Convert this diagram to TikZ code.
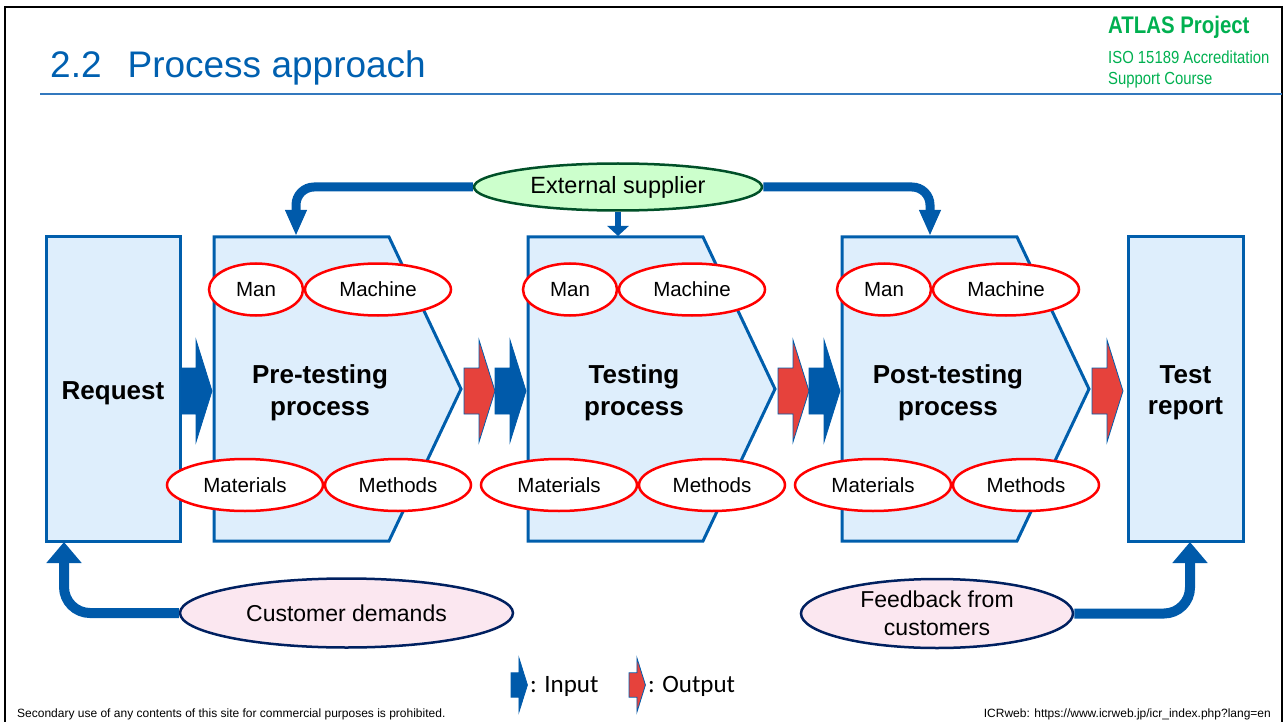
\documentclass[tikz,border=0pt]{standalone}
\usepackage{fontspec}
\setmainfont{Liberation Sans}
\newfontfamily\narrowfont[FakeStretch=0.85]{Liberation Sans}
\newfontfamily\legendfont{Carlito}
\usetikzlibrary{shapes.geometric, arrows.meta}

\definecolor{boxblue}{RGB}{0,94,172}
\definecolor{boxfill}{RGB}{222,238,252}
\definecolor{arrowblue}{RGB}{0,90,170}
\definecolor{outred}{RGB}{230,66,60}
\definecolor{factorred}{RGB}{255,0,0}
\definecolor{supfill}{RGB}{204,255,204}
\definecolor{supline}{RGB}{0,80,40}
\definecolor{custfill}{RGB}{251,231,240}
\definecolor{custline}{RGB}{0,32,96}
\definecolor{atlasgreen}{RGB}{0,176,80}
\definecolor{titleblue}{RGB}{0,96,176}
\definecolor{rulecol}{RGB}{50,120,190}

\tikzset{
  procbox/.style={draw=boxblue, fill=boxfill, line width=3pt},
  endbox/.style={procbox, rectangle, minimum width=134pt, minimum height=304pt, inner sep=0pt},
  proclabel/.style={align=center, inner sep=0pt, font=\fontsize{26}{31.5}\selectfont\bfseries},
  factor/.style={ellipse, draw=factorred, fill=white, line width=2.5pt, inner sep=0pt, minimum height=52pt, font=\fontsize{20.5}{24}\selectfont},
  party/.style={ellipse, draw=custline, fill=custfill, line width=2.5pt, inner sep=0pt, minimum height=69pt, align=center, font=\fontsize{23}{28}\selectfont},
  supply/.style={draw=arrowblue, line width=9pt, rounded corners=18pt, -{Triangle[width=20pt, length=26pt]}},
  demand/.style={draw=arrowblue, line width=10pt, rounded corners=26pt, -{Triangle[width=34pt, length=21pt]}},
  inarrow/.style={fill=arrowblue, draw=arrowblue, line width=0.8pt},
  outarrow/.style={fill=outred, draw=boxblue, line width=0.8pt},
  legend/.style={inner sep=0pt, font=\legendfont\fontsize{25}{30}\selectfont},
  footer/.style={inner sep=0pt, font=\fontsize{12}{14}\selectfont},
  pics/flowarrow/.style={code={
    \draw[#1] (0,-23) -- (15,-23) -- (15,-51) -- (31,0) -- (15,51) -- (15,23) -- (0,23) -- cycle;
  }}
}

\begin{document}
\begin{tikzpicture}[x=1pt, y=-1pt]
  \useasboundingbox (0,0) rectangle (1285,722);
  \draw[line width=2.5pt] (5,722) -- (5,7) -- (1282,7) -- (1282,722);

  \node[anchor=base west, inner sep=0pt, text=titleblue, font=\fontsize{37}{44}\selectfont] (title) at (50,78) {2.2\hspace{26pt}Process approach};
  \draw[rulecol, line width=1.5pt] (40,94) -- (1282,94);
  \node[anchor=base west, inner sep=0pt, text=atlasgreen, font=\narrowfont\bfseries\fontsize{24}{28}\selectfont] (atlas) at (1108,34) {ATLAS Project};
  \node[anchor=base west, inner sep=0pt, text=atlasgreen, font=\narrowfont\fontsize{17.5}{21}\selectfont] (course) at (1108,64) {ISO 15189 Accreditation};
  \node[anchor=base west, inner sep=0pt, text=atlasgreen, font=\narrowfont\fontsize{17.5}{21}\selectfont] (course2) at (1108,85) {Support Course};

  \node[endbox] (request) at (113,389) {};
  \node[proclabel] (requestlabel) at (113,393) {Request};
  \node[endbox, minimum width=115pt] (report) at (1185.5,389) {};
  \node[proclabel] (reportlabel) at (1185.5,393) {Test\\report};

  \foreach \x/\nm/\lbl in {214/pre/{Pre-testing\\process}, 528/test/{Testing\\process}, 842/post/{Post-testing\\process}} {
    \draw[procbox] (\x,237) -- ++(175,0) -- ++(72,152) -- ++(-72,152) -- ++(-175,0) -- cycle;
    \node[proclabel] (\nm) at (\x+106,393) {\lbl};
    \node[factor, minimum width=94pt] (\nm man) at (\x+42,289.5) {Man};
    \node[factor, minimum width=146pt] (\nm machine) at (\x+164,289.5) {Machine};
    \node[factor, minimum width=156pt] (\nm materials) at (\x+31,485) {Materials};
    \node[factor, minimum width=146pt] (\nm methods) at (\x+184,485) {Methods};
    \pic at (\x-33,391) {flowarrow=inarrow};
    \pic at (\x+250,391) {flowarrow=outarrow};
  }

  \node[ellipse, draw=supline, fill=supfill, line width=2.5pt, inner sep=0pt, minimum width=288pt, minimum height=47pt, font=\fontsize{23.5}{28}\selectfont] (supplier) at (618,187) {External supplier};
  \coordinate (preIn) at (296,236);
  \coordinate (testIn) at (618,236);
  \coordinate (postIn) at (930,236);
  \draw[supply] (supplier.west) -| (preIn);
  \draw[supply] (supplier.east) -| (postIn);
  \draw[draw=arrowblue, line width=6pt, -{Triangle[width=21pt, length=10pt]}] (supplier.south) -- (testIn);

  \node[party, minimum width=333pt] (customer) at (346.5,613) {Customer demands};
  \node[party, minimum width=272pt] (feedback) at (937,613.5) {Feedback from\\customers};
  \coordinate (reqIn) at (64,542);
  \coordinate (repIn) at (1190,542);
  \draw[demand] (customer.west) -| (reqIn);
  \draw[demand] (feedback.east) -| (repIn);

  \pic[scale=0.53] at (511,685) {flowarrow=inarrow};
  \node[legend, anchor=base west] (inkey) at (530,692) {: Input};
  \pic[scale=0.53] at (629,685) {flowarrow=outarrow};
  \node[legend, anchor=base west] (outkey) at (648,692) {: Output};

  \node[footer, anchor=base west] (notice) at (17,717) {Secondary use of any contents of this site for commercial purposes is prohibited.};
  \node[footer, anchor=base east] (source) at (1271,717) {ICRweb: https://www.icrweb.jp/icr\_index.php?lang=en};
\end{tikzpicture}
\end{document}
